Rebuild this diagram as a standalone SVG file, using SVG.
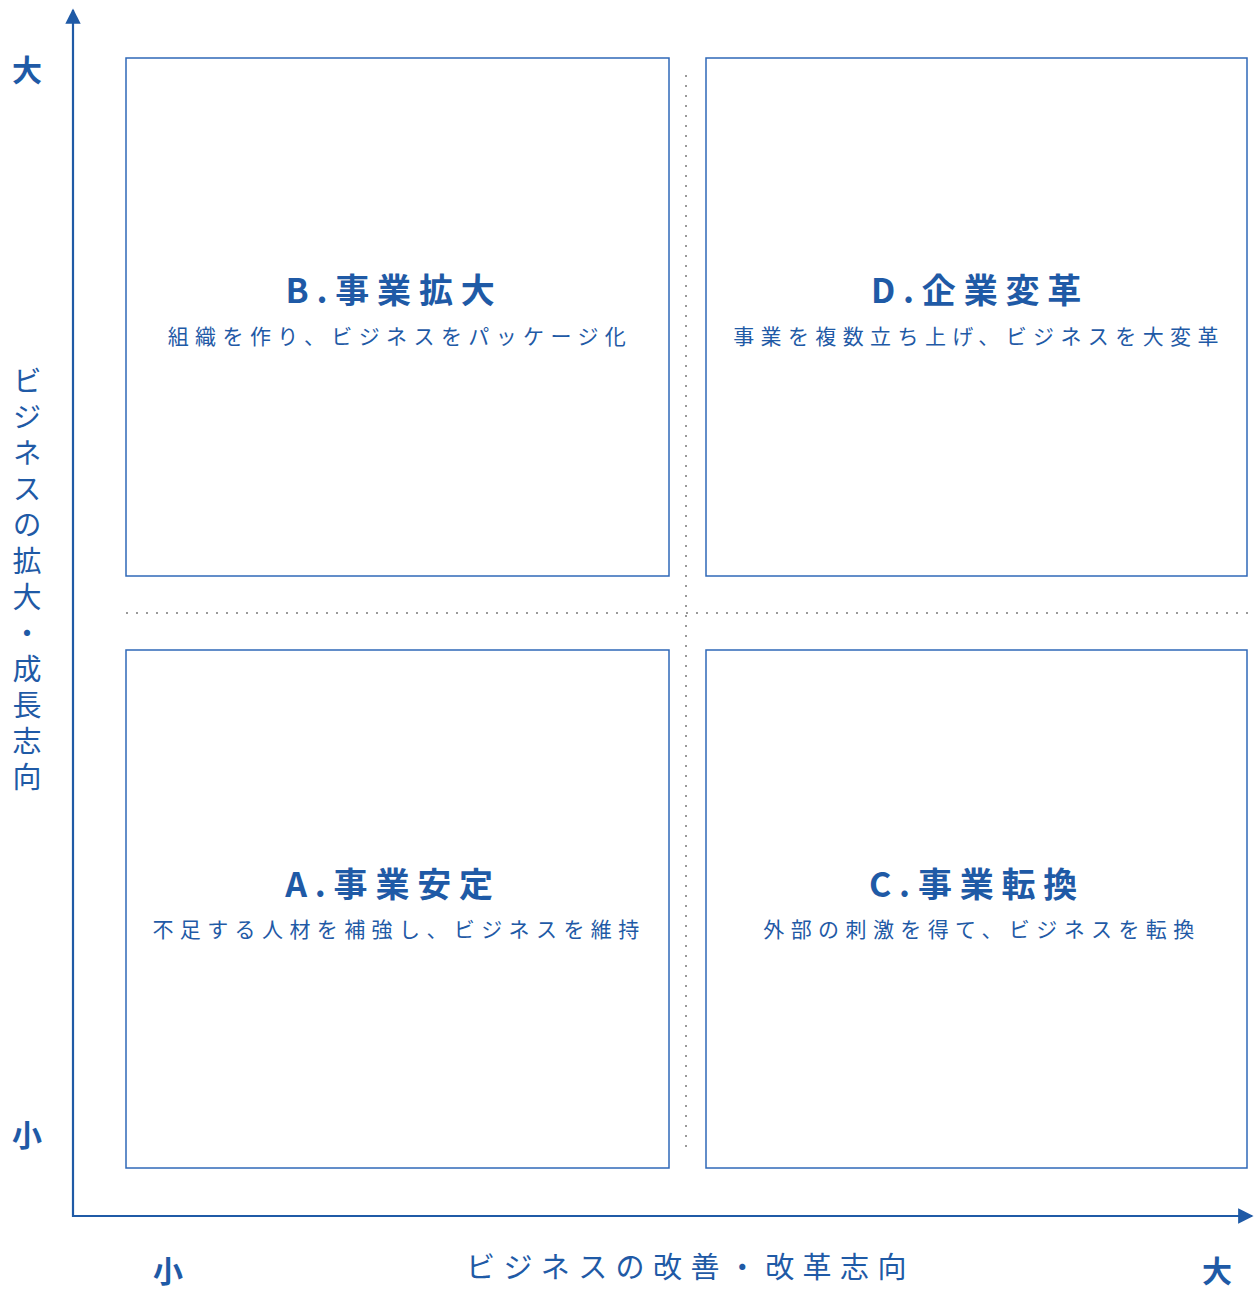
<svg xmlns="http://www.w3.org/2000/svg" width="1256" height="1291" viewBox="0 0 1256 1291">
<defs>
<style>
text{font-family:"Noto Sans CJK JP","Noto Sans",sans-serif;fill:#1f5aa6}
.box{fill:#fff;stroke:#2f68b8;stroke-width:1.5}
.axis{stroke:#1f5aa6;stroke-width:2.2;fill:none}
.dot{stroke:#7a7a7a;stroke-width:1.5;stroke-dasharray:2 8;fill:none}
.title{font-size:34px;font-weight:700;letter-spacing:7.8px;text-anchor:middle}
.sub{font-size:21px;letter-spacing:6.4px;text-anchor:middle}
.end{font-size:30px;font-weight:700;text-anchor:middle}
.lab{font-size:29px;letter-spacing:8.4px}
.vlab{font-size:29px;letter-spacing:7px;writing-mode:vertical-rl}
</style>
<marker id="arr" viewBox="0 0 10 10" refX="9" refY="5" markerWidth="7" markerHeight="7" orient="auto" markerUnits="strokeWidth">
<path d="M0,0 L10,5 L0,10 z" fill="#1f5aa6"/>
</marker>
</defs>
<rect width="1256" height="1291" fill="#fff"/>
<g id="connectors">
<line class="dot" x1="686" y1="75" x2="686" y2="1155"/>
<line class="dot" x1="126" y1="613" x2="1250" y2="613"/>
<line class="axis" x1="73" y1="1217" x2="73" y2="10" marker-end="url(#arr)"/>
<line class="axis" x1="72" y1="1216" x2="1252" y2="1216" marker-end="url(#arr)"/>
</g>
<g id="nodeB">
<rect class="box" x="126" y="58" width="543" height="518"/>
<text class="title" x="394" y="303">B.事業拡大</text>
<text class="sub" x="400" y="344">組織を作り、ビジネスをパッケージ化</text>
</g>
<g id="nodeD">
<rect class="box" x="706" y="58" width="541" height="518"/>
<text class="title" x="980" y="303">D.企業変革</text>
<text class="sub" x="979" y="344">事業を複数立ち上げ、ビジネスを大変革</text>
</g>
<g id="nodeA">
<rect class="box" x="126" y="650" width="543" height="518"/>
<text class="title" x="393" y="897">A.事業安定</text>
<text class="sub" x="399" y="937">不足する人材を補強し、ビジネスを維持</text>
</g>
<g id="nodeC">
<rect class="box" x="706" y="650" width="541" height="518"/>
<text class="title" x="977" y="897">C.事業転換</text>
<text class="sub" x="982" y="937">外部の刺激を得て、ビジネスを転換</text>
</g>
<g id="labels">
<text class="end" x="27" y="81">大</text>
<text class="end" x="27" y="1146">小</text>
<text class="end" x="168" y="1282">小</text>
<text class="end" x="1217" y="1282">大</text>
<text class="vlab" x="27" y="366">ビジネスの拡大・成長志向</text>
<text class="lab" x="466" y="1278">ビジネスの改善・改革志向</text>
</g>
</svg>
